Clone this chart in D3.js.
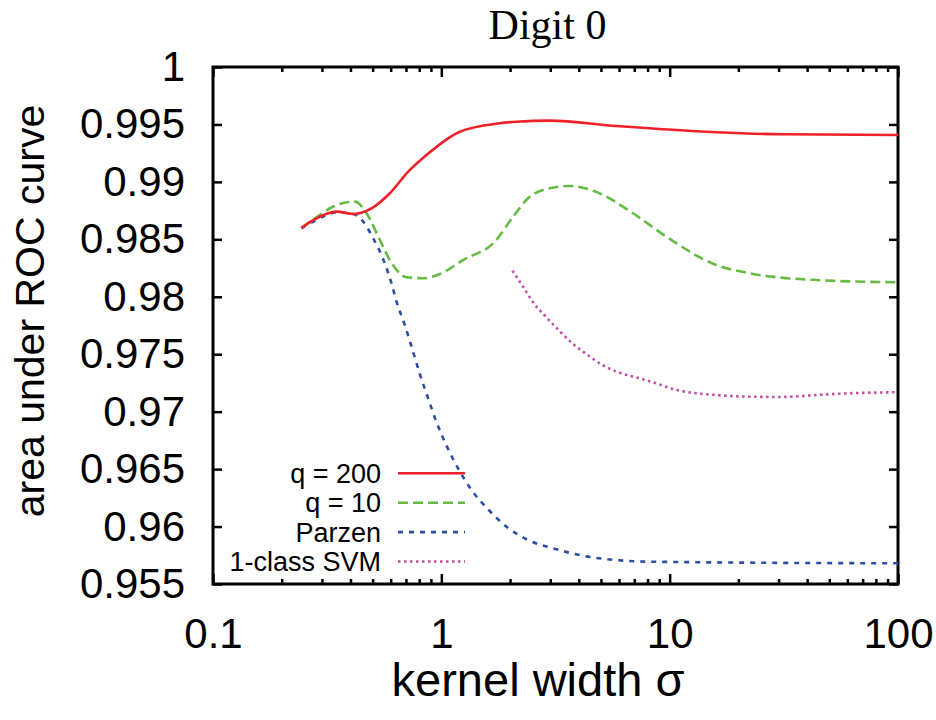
<!DOCTYPE html>
<html>
<head>
<meta charset="utf-8">
<script src="https://cdn.jsdelivr.net/npm/d3@7"></script>
<style>
  html, body { margin: 0; padding: 0; background: #fff; }
  svg { display: block; }
</style>
</head>
<body>
<svg id="chart" width="936" height="720"></svg>
<script>
// Kernel width sigma (log axis) against area under the ROC curve, digit 0.
const xTickValues = [0.1, 1, 10, 100];
const xTickLabels = ["0.1", "1", "10", "100"];
const yTickValues = [0.955, 0.96, 0.965, 0.97, 0.975, 0.98, 0.985, 0.99, 0.995, 1];
const yTickLabels = ["0.955", "0.96", "0.965", "0.97", "0.975", "0.98", "0.985", "0.99", "0.995", "1"];

const seriesNames = ["q = 200", "q = 10", "Parzen", "1-class SVM"];

const sigmaQ200 = [0.244, 0.275, 0.348, 0.411, 0.495, 0.595, 0.716, 0.861, 1.205, 1.803, 2.134, 2.98, 5.84, 16.0, 31.2, 100];
const aucQ200   = [0.9860, 0.98668, 0.98741, 0.98721, 0.9877, 0.98901, 0.99089, 0.99234, 0.99437, 0.9951, 0.99524, 0.99533, 0.99486, 0.99432, 0.99414, 0.99408];

const sigmaQ10 = [0.244, 0.2796, 0.348, 0.418, 0.4706, 0.538, 0.595, 0.7042, 0.8325, 0.985, 1.246, 1.715, 2.063, 2.398, 2.98, 3.65, 4.62, 6.91, 9.67, 16.0, 22.4, 43.8, 100];
const aucQ10   = [0.9860, 0.98683, 0.98799, 0.98828, 0.98727, 0.98494, 0.9832, 0.9817, 0.98161, 0.98198, 0.9832, 0.9848, 0.98697, 0.98857, 0.98944, 0.98964, 0.98923, 0.98727, 0.98523, 0.98277, 0.98204, 0.98146, 0.98126];

const sigmaParzen = [0.244, 0.2796, 0.348, 0.411, 0.4548, 0.503, 0.5656, 0.605, 0.6365, 0.692, 0.748, 0.805, 0.8755, 0.953, 1.054, 1.184, 1.356, 1.602, 1.929, 2.398, 3.085, 4.39, 8.18, 100];
const aucParzen   = [0.98596, 0.98662, 0.98735, 0.98721, 0.98654, 0.98509, 0.98291, 0.98117, 0.97957, 0.97754, 0.97537, 0.97328, 0.97116, 0.96907, 0.96704, 0.96507, 0.96318, 0.9615, 0.95999, 0.95883, 0.95811, 0.95738, 0.95694, 0.9568];

const sigmaSVM = [2.049, 2.28, 2.522, 2.867, 3.279, 3.774, 4.39, 5.16, 6.15, 7.39, 8.89, 10.7, 12.1, 16.0, 22.4, 31.3, 43.8, 61.3, 100];
const aucSVM   = [0.98227, 0.98088, 0.97952, 0.97827, 0.97705, 0.97589, 0.97491, 0.97398, 0.97334, 0.9729, 0.97241, 0.97189, 0.97169, 0.97145, 0.9713, 0.97128, 0.97145, 0.9716, 0.97169];

const SANS = '"Liberation Sans", Arial, Helvetica, sans-serif';
const SERIF = '"Liberation Serif", "Times New Roman", Times, serif';

const margin = { left: 213, right: 898, top: 67, bottom: 584 };

const svg = d3.select("#chart");
const x = d3.scaleLog().domain([0.1, 100]).range([margin.left, margin.right]);
const y = d3.scaleLinear().domain([0.955, 1]).range([margin.bottom, margin.top]);

// minor ticks 2..9 within every decade
const minorX = [];
[0.1, 1, 10].forEach(d => { for (let k = 2; k <= 9; k++) minorX.push(+(d * k).toPrecision(3)); });

function styleAxis(g) {
  g.select(".domain").remove();
  g.selectAll(".tick line").attr("stroke", "#000").attr("stroke-width", 2.5);
  g.selectAll("text").style("font-family", SANS).style("font-size", "42px").attr("fill", "#000");
}

// bottom axis with labels
svg.append("g")
  .attr("transform", `translate(0,${margin.bottom})`)
  .call(d3.axisBottom(x).tickValues(xTickValues)
    .tickFormat((d, i) => xTickLabels[i]).tickSize(-10).tickPadding(34))
  .call(styleAxis);

svg.append("g")
  .attr("transform", `translate(0,${margin.bottom})`)
  .call(d3.axisBottom(x).tickValues(minorX).tickFormat("").tickSize(-5))
  .call(styleAxis);

// top mirror axis
svg.append("g")
  .attr("transform", `translate(0,${margin.top})`)
  .call(d3.axisTop(x).tickValues(xTickValues).tickFormat("").tickSize(-10))
  .call(styleAxis);
svg.append("g")
  .attr("transform", `translate(0,${margin.top})`)
  .call(d3.axisTop(x).tickValues(minorX).tickFormat("").tickSize(-5))
  .call(styleAxis);

// left axis with labels
svg.append("g")
  .attr("transform", `translate(${margin.left},0)`)
  .call(d3.axisLeft(y).tickValues(yTickValues)
    .tickFormat((d, i) => yTickLabels[i]).tickSize(-9).tickPadding(28))
  .call(styleAxis);

// right mirror axis
svg.append("g")
  .attr("transform", `translate(${margin.right},0)`)
  .call(d3.axisRight(y).tickValues(yTickValues).tickFormat("").tickSize(-9))
  .call(styleAxis);

// frame
svg.append("rect")
  .attr("x", margin.left).attr("y", margin.top)
  .attr("width", margin.right - margin.left).attr("height", margin.bottom - margin.top)
  .attr("fill", "none").attr("stroke", "#000").attr("stroke-width", 3);

// curves
const series = [
  { name: seriesNames[0], xs: sigmaQ200, ys: aucQ200, color: "#ee2028", dash: null },
  { name: seriesNames[1], xs: sigmaQ10, ys: aucQ10, color: "#66bb44", dash: "10,5" },
  { name: seriesNames[2], xs: sigmaParzen, ys: aucParzen, color: "#2c4fa3", dash: "5,6" },
  { name: seriesNames[3], xs: sigmaSVM, ys: aucSVM, color: "#c04ea3", dash: "2.5,3.5" }
];

const line = d3.line()
  .x(d => x(d[0]))
  .y(d => y(d[1]))
  .curve(d3.curveMonotoneX);

// draw back to front so the solid red ends up on top
[3, 2, 1, 0].forEach(i => {
  const s = series[i];
  svg.append("path")
    .datum(s.xs.map((v, j) => [v, s.ys[j]]))
    .attr("d", line)
    .attr("fill", "none")
    .attr("stroke", s.color)
    .attr("stroke-width", 2.6)
    .attr("stroke-dasharray", s.dash);
});

// legend
const legend = svg.append("g");
series.forEach((s, i) => {
  const cy = 473.3 + i * 29.4;
  legend.append("text")
    .attr("x", 381).attr("y", cy).attr("dy", "0.35em")
    .attr("text-anchor", "end")
    .style("font-family", SANS).style("font-size", "27px")
    .text(s.name);
  legend.append("line")
    .attr("x1", 398).attr("x2", 465).attr("y1", cy).attr("y2", cy)
    .attr("stroke", s.color).attr("stroke-width", 2.6)
    .attr("stroke-dasharray", s.dash);
});

// titles
svg.append("text")
  .attr("x", 547.5).attr("y", 39)
  .attr("text-anchor", "middle")
  .style("font-family", SERIF).style("font-size", "42px")
  .text("Digit 0");

svg.append("text")
  .attr("x", 538).attr("y", 696)
  .attr("text-anchor", "middle")
  .style("font-family", SANS).style("font-size", "47px")
  .text("kernel width σ");

svg.append("text")
  .attr("transform", "translate(43.5,311) rotate(-90)")
  .attr("text-anchor", "middle")
  .style("font-family", SANS).style("font-size", "41px")
  .text("area under ROC curve");
</script>
</body>
</html>
